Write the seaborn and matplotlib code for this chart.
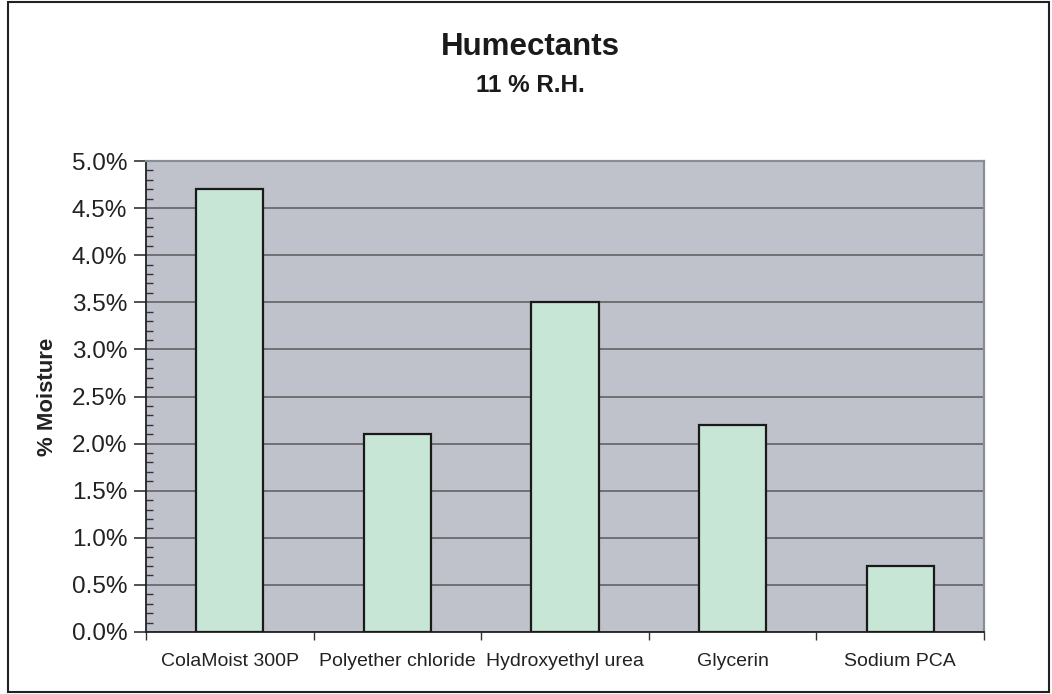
import matplotlib
matplotlib.use("Agg")
import matplotlib.pyplot as plt
import matplotlib.ticker as mticker
from matplotlib.patches import Rectangle
import pandas as pd
import seaborn as sns

# data
humectants = ["ColaMoist 300P", "Polyether chloride", "Hydroxyethyl urea", "Glycerin", "Sodium PCA"]
moisture = [0.047, 0.021, 0.035, 0.022, 0.007]

df = pd.DataFrame({"Humectant": humectants, "Moisture": moisture})

sns.set_theme(style="ticks")
plt.rcParams["font.family"] = ["Liberation Sans", "DejaVu Sans"]

fig = plt.figure(figsize=(10.52, 6.94), dpi=100)
ax = fig.add_axes([146 / 1052, 62 / 694, 838 / 1052, 471 / 694])
ax.set_facecolor("#c0c2cb")

sns.barplot(data=df, x="Humectant", y="Moisture", color="#c8e6d6", saturation=1,
            width=0.4, edgecolor="#1a1a1a", linewidth=1.6, ax=ax, zorder=3)

ax.set_ylim(0, 0.05)
ax.set_xlim(-0.5, len(humectants) - 0.5)
ax.yaxis.set_major_locator(mticker.MultipleLocator(0.005))
ax.yaxis.set_minor_locator(mticker.MultipleLocator(0.001))
ax.yaxis.set_major_formatter(mticker.PercentFormatter(xmax=1, decimals=1))
ax.xaxis.set_minor_locator(mticker.FixedLocator([i - 0.5 for i in range(len(humectants) + 1)]))

ax.grid(axis="y", which="major", color="#5a5a5a", linewidth=1.1)
ax.set_axisbelow(True)

ax.tick_params(axis="y", which="major", direction="out", length=9, width=1.1,
               labelsize=17.5, pad=4.5, colors="#222222")
ax.tick_params(axis="y", which="minor", direction="in", length=5, width=1.0, color="#333333")
ax.tick_params(axis="x", which="major", length=0, labelsize=14, pad=15, labelcolor="#222222")
ax.tick_params(axis="x", which="minor", direction="out", length=6, width=1.0, color="#333333")

for side in ["left", "bottom"]:
    ax.spines[side].set_color("#222222")
    ax.spines[side].set_linewidth(1.3)
for side in ["top", "right"]:
    ax.spines[side].set_visible(True)
    ax.spines[side].set_color("#878f96")
    ax.spines[side].set_linewidth(1.6)

ax.set_xlabel("")
ax.set_ylabel("% Moisture", fontsize=16, fontweight="bold", color="#222222")
ax.yaxis.set_label_coords(-0.105, 0.5)

fig.text(530 / 1052, 1 - 47 / 694, "Humectants", ha="center", va="center",
         fontsize=22.5, fontweight="bold", color="#1a1a1a")
fig.text(530 / 1052, 1 - 85 / 694, "11 % R.H.", ha="center", va="center",
         fontsize=17.5, fontweight="bold", color="#1a1a1a")

fig.patches.append(Rectangle((8 / 1052, 2 / 694), 1041 / 1052, 690 / 694,
                             transform=fig.transFigure, fill=False,
                             edgecolor="#222222", linewidth=1.5))

fig.savefig("out.png", dpi=100)
